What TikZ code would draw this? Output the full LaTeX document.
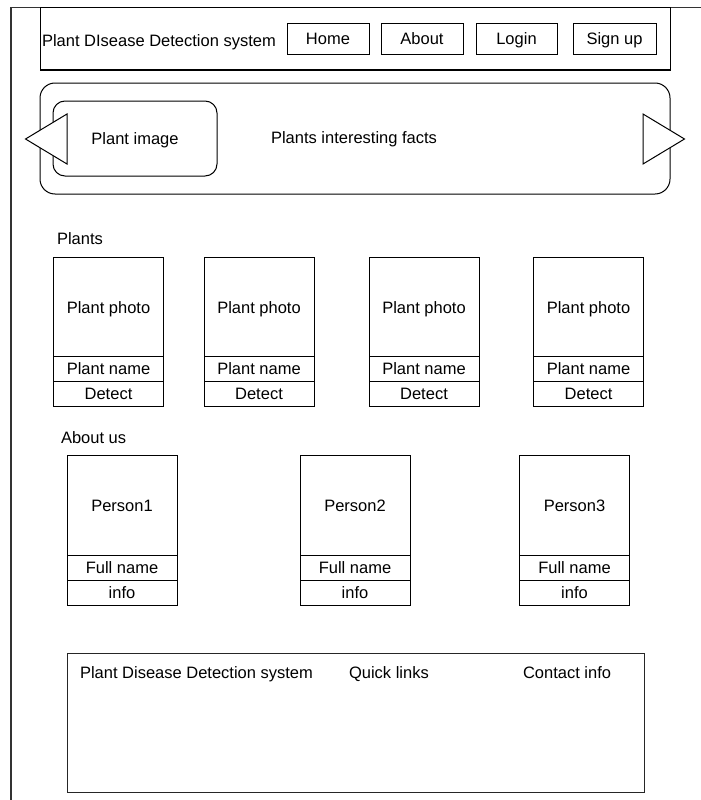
\documentclass[tikz,border=0pt]{standalone}
\usepackage{fontspec}
\setmainfont{Liberation Sans}
\begin{document}
\begin{tikzpicture}[x=1pt,y=-1pt,line width=1pt,
  every node/.style={font=\fontsize{16.5}{19}\selectfont, inner sep=0pt, outer sep=0pt, text height=11.8pt, text depth=0pt},
  box/.style={draw, anchor=north west},
  lbl/.style={anchor=base west},
  frameline/.style={draw=black!80, line width=1.1pt}]
\useasboundingbox (0,0) rectangle (701,800);
% outer frame
\coordinate (ftr) at (701,7.5);
\coordinate (ftl) at (11,7.5);
\coordinate (fbl) at (11,800);
\draw[frameline] (ftr) -- (ftl) -- (fbl);
% header
\node[box, minimum width=630, minimum height=62.5] (header) at (40,7.5) {};
\node[lbl] (title) at (42,46.5) {Plant DIsease Detection system};
\node[box, minimum width=82, minimum height=31] (home) at (287,23.5) {Home};
\node[box, minimum width=82, minimum height=31] (about) at (381,23.5) {About};
\node[box, minimum width=81, minimum height=31] (login) at (476,23.5) {Login};
\node[box, minimum width=83, minimum height=31] (signup) at (573,23.5) {Sign up};
% slider
\node[box, rounded corners=15pt, minimum width=630, minimum height=111] (slider) at (40,83) {};
\node[box, rounded corners=12pt, minimum width=164, minimum height=75] (imgbox) at (53,101) {Plant image};
\node (facts) at (354,138) {Plants interesting facts};
\draw[fill=white] (67,114) -- (25.5,139) -- (67,164) -- cycle;
\draw[fill=white] (643,114) -- (684.5,139) -- (643,164) -- cycle;
% plants
\node[lbl] (plantslbl) at (57,244) {Plants};
\foreach \x [count=\i] in {53.5,204,369,533.5}{
  \node[box, minimum width=110, minimum height=99] (photo\i) at (\x,257) {};
  \node (phototext\i) at ([yshift=-1]photo\i.center) {Plant photo};
  \node[box, minimum width=110, minimum height=25] (pname\i) at (\x,356) {Plant name};
  \node[box, minimum width=110, minimum height=24.5] (detect\i) at (\x,381.5) {Detect};
}
% about us
\node[lbl] (aboutlbl) at (61,443) {About us};
\foreach \x [count=\i] in {67,300,519.5}{
  \node[box, minimum width=110, minimum height=100] (person\i) at (\x,455) {};
  \node (persontext\i) at ([yshift=-1]person\i.center) {Person\i};
  \node[box, minimum width=110, minimum height=25] (fname\i) at (\x,555) {Full name};
  \node[box, minimum width=110, minimum height=24.5] (info\i) at (\x,580.5) {info};
}
% footer
\node[box, draw=black!85, minimum width=577, minimum height=139] (footer) at (67,653) {};
\node[lbl] (ftitle) at (80,678.5) {Plant Disease Detection system};
\node[lbl] (quick) at (349,678.5) {Quick links};
\node[lbl] (contact) at (523,678.5) {Contact info};
\end{tikzpicture}
\end{document}
